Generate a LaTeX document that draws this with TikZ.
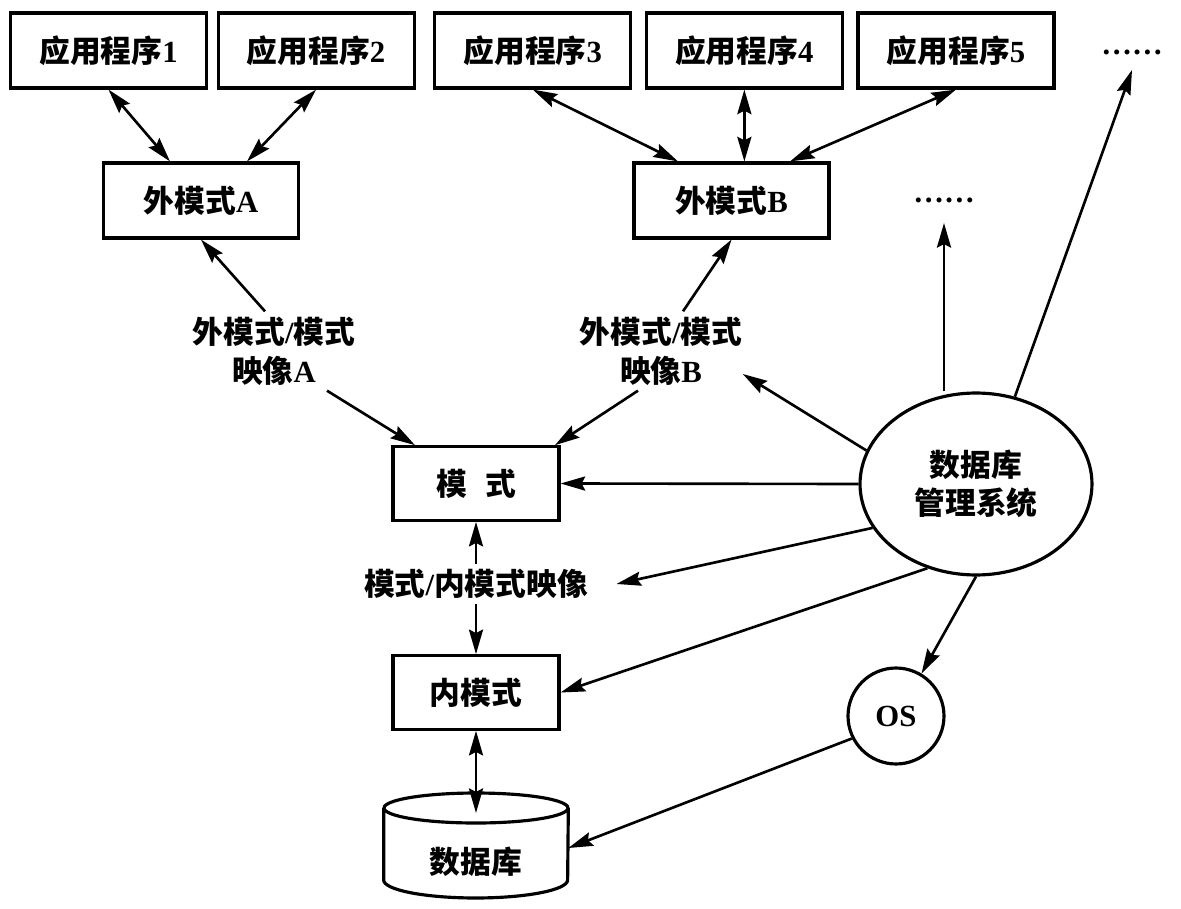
\documentclass[tikz,border=0pt]{standalone}
\usepackage{fontspec}
\setmainfont{Liberation Serif}
\newfontfamily\cjk{Noto Sans CJK SC}
\usepackage{tikz}
\usetikzlibrary{
  shapes.geometric,
  arrows.meta,
  positioning,
  calc
}
\newcommand\zh[1]{{\cjk #1}}
\newcommand\mainsize{\fontsize{17.5}{22}\selectfont\bfseries}
\tikzset{
  % Kutu stilleri
  basebox/.style={
    draw,
    line width=1.8pt,
    minimum height=1.5cm,
    inner sep=2pt,
    font=\mainsize
  },
  appbox/.style={basebox, minimum width=3.92cm},
  extbox/.style={basebox, minimum width=3.9cm},
  modebox/.style={basebox, minimum width=3.32cm, minimum height=1.47cm},
  dbmsnode/.style={
    ellipse,
    draw,
    line width=1.8pt,
    minimum width=4.64cm,
    minimum height=3.64cm,
    inner sep=0pt,
    align=center,
    font=\mainsize
  },
  osnode/.style={circle, draw, line width=1.8pt, minimum size=1.92cm, inner sep=0pt, font=\mainsize},
  dbtext/.style={minimum width=3.68cm, inner sep=0pt, font=\mainsize},
  shapeline/.style={line width=1.8pt},
  % Etiketler
  maplabel/.style={align=center, inner sep=3pt, font=\mainsize},
  dotsnode/.style={inner sep=0pt, font=\mainsize},
  % Ok stilleri
  arrow/.style={-{Stealth[length=14pt,width=8pt,inset=2pt]}, line width=1.5pt},
  biarrow/.style={{Stealth[length=14pt,width=8pt,inset=2pt]}-{Stealth[length=14pt,width=8pt,inset=2pt]}, line width=1.5pt},
}

\begin{document}
\begin{tikzpicture}[x=0.02cm, y=-0.02cm]
  \useasboundingbox (0,0) rectangle (1181,909);
  % Uygulamalar
  \node[appbox] (app1) at (108.5,50.5) {\zh{应用程序}1};
  \node[appbox, right=0.17cm of app1] (app2) {\zh{应用程序}2};
  \node[appbox, right=0.35cm of app2] (app3) {\zh{应用程序}3};
  \node[appbox, right=0.25cm of app3] (app4) {\zh{应用程序}4};
  \node[appbox, right=0.25cm of app4] (app5) {\zh{应用程序}5};
  \node[dotsnode] (dotstop) at (1132,52) {\ldots\ldots};

  % Dis modeller
  \node[extbox] (extA) at (201,200.5) {\zh{外模式}A};
  \node[extbox] (extB) at (731.5,200.5) {\zh{外模式}B};
  \node[dotsnode] (dotsmid) at (944,200) {\ldots\ldots};

  \node[maplabel] (mapA) at (274,351) {\zh{外模式}/\zh{模式}\\\zh{映像}A};
  \node[maplabel] (mapB) at (661,351) {\zh{外模式}/\zh{模式}\\\zh{映像}B};

  % Modeller
  \node[modebox] (mode) at (476,483.5) {\zh{模}\hspace{0.6em}\zh{式}};
  \node[maplabel] (mapI) at (476,584) {\zh{模式}/\zh{内模式映像}};
  \node[modebox] (inner) at (476,692.5) {\zh{内模式}};

  % Veritabani
  \node[dbtext] (db) at (476,862) {\zh{数据库}};
  \draw[shapeline] ([yshift=1.08cm]db.center) ellipse [x radius=1.84cm, y radius=0.3cm];
  \draw[shapeline] ([yshift=1.08cm]db.west) -- ([yshift=-0.36cm]db.west)
    arc [start angle=180, end angle=360, x radius=1.84cm, y radius=0.36cm]
    -- ([yshift=1.08cm]db.east);

  \node[dbmsnode] (dbms) at (976,484) {\zh{数据库}\\\zh{管理系统}};
  \node[osnode] (os) at (896,716) {OS};

  % Oklar
  \draw[biarrow] (app1.south) -- ([xshift=-0.62cm]extA.north);
  \draw[biarrow] (app2.south) -- ([xshift=0.92cm]extA.north);
  \draw[biarrow] (app3.south) -- ([xshift=-1.07cm]extB.north);
  \draw[biarrow] (app4.south) -- (app4.south |- extB.north);
  \draw[biarrow] (app5.south) -- ([xshift=1.17cm]extB.north);

  \draw[arrow] ([xshift=-0.18cm]mapA.north) -- (extA.south);
  \draw[arrow] ([xshift=1.06cm]mapA.south) -- ([xshift=-1.22cm]mode.north);
  \draw[arrow] ([xshift=0.44cm]mapB.north) -- (extB.south);
  \draw[arrow] ([xshift=-0.46cm]mapB.south) -- ([xshift=1.58cm]mode.north);
  \draw[arrow] (mapI.north) -- (mode.south);
  \draw[arrow] (mapI.south) -- (inner.north);
  \draw[biarrow] (inner.south) -- ([yshift=0.98cm]db.center);

  \draw[arrow] (dbms.west) -- (mode.east);
  \draw[arrow] (dbms.163) -- ([shift={(-0.1cm,-0.46cm)}]mapB.east);
  \draw[arrow] (dbms.203) -- ([xshift=0.46cm]mapI.east);
  \draw[arrow] (dbms.240) -- (inner.east);
  \draw[arrow] (dbms.south) -- (os.59);
  \draw[arrow] (os.207) -- ([yshift=0.28cm]db.east);
  \draw[arrow] (dotsmid |- dbms.north) -- ([yshift=-0.46cm]dotsmid.center);
  \draw[arrow] (dbms.66) -- ([yshift=-0.36cm]dotstop.center);
\end{tikzpicture}
\end{document}
